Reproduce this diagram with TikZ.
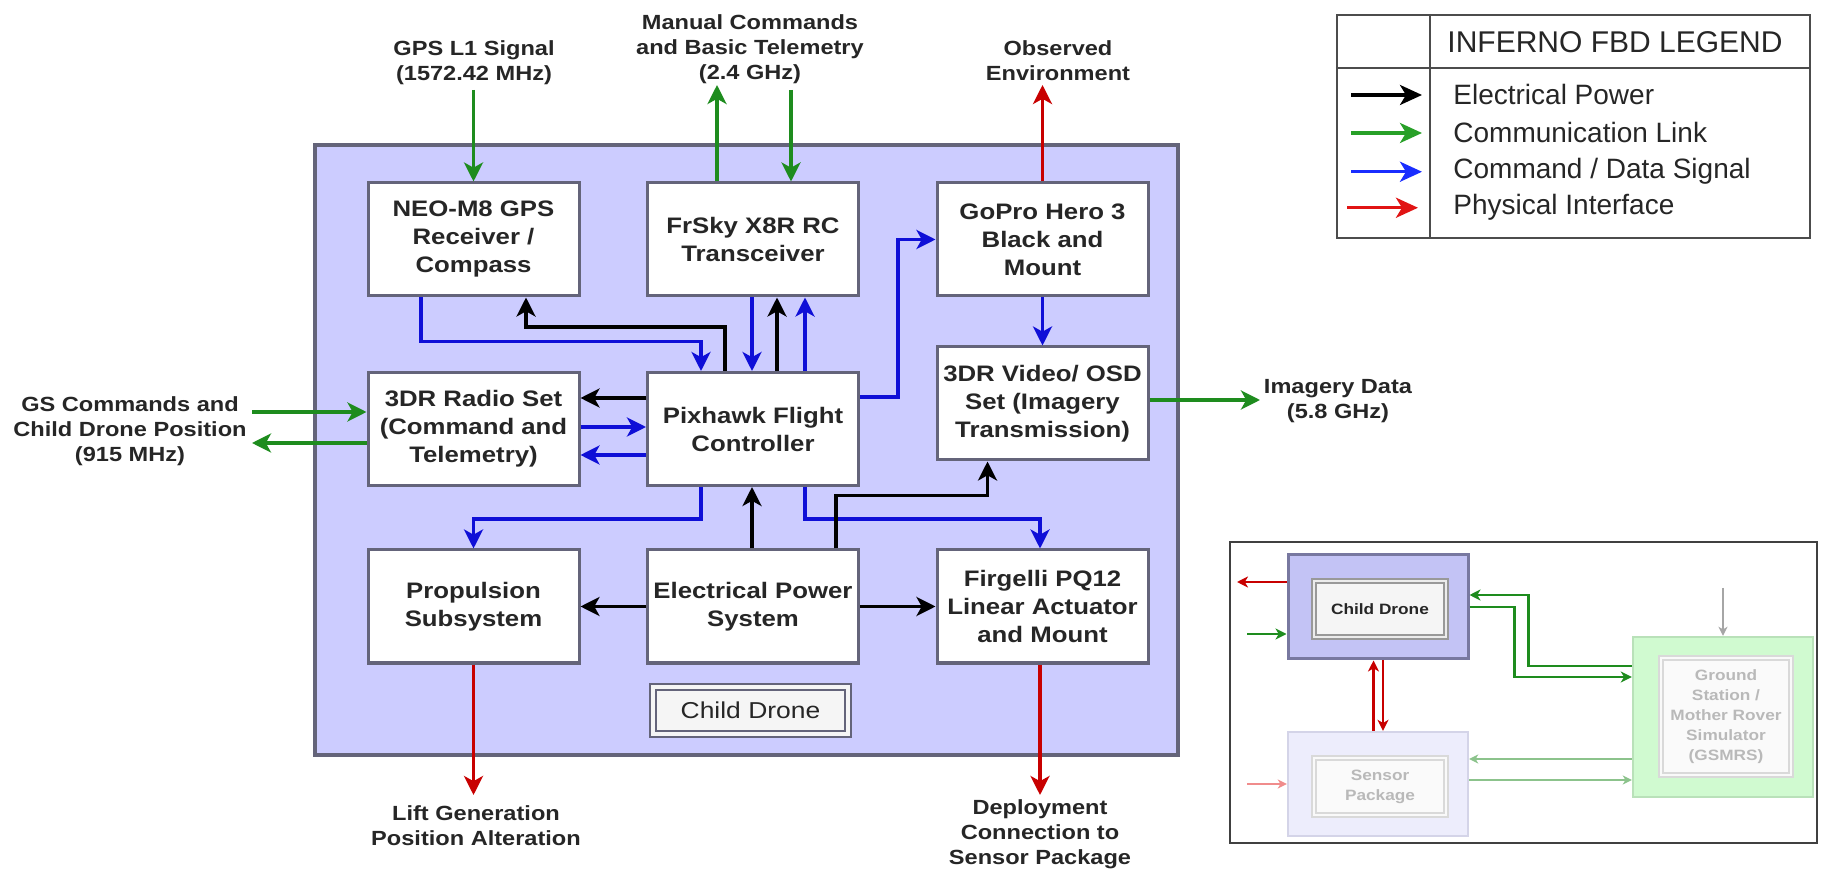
\documentclass[tikz,border=0pt]{standalone}
\usepackage{fontspec}
\setmainfont{Liberation Sans}
\newfontfamily\boxfont[FakeStretch=1.15]{Liberation Sans}
\usetikzlibrary{arrows.meta,calc}
\definecolor{lav}{RGB}{204,204,255}
\definecolor{bord}{RGB}{100,100,122}
\definecolor{cgreen}{RGB}{30,140,30}
\definecolor{cblue}{RGB}{15,15,215}
\definecolor{cred}{RGB}{200,0,0}
\definecolor{lgreen}{RGB}{40,160,40}
\definecolor{lblue}{RGB}{25,45,255}
\definecolor{lred}{RGB}{225,20,20}
\definecolor{icdfill}{RGB}{195,195,245}
\definecolor{icdbord}{RGB}{120,120,160}
\definecolor{ispfill}{RGB}{237,237,252}
\definecolor{ispbord}{RGB}{212,212,232}
\definecolor{igsfill}{RGB}{208,250,208}
\definecolor{igsbord}{RGB}{185,225,185}
\definecolor{fgreen}{RGB}{140,195,140}
\definecolor{fred}{RGB}{240,140,140}
\tikzset{
  arrhead/.style={-{Stealth[length=9.5pt,width=9.5pt,inset=2.6pt]}},
  conn/.style={line width=1.8pt, arrhead},
  blk/.style={conn, draw=black},
  blu/.style={conn, draw=cblue},
  grn/.style={conn, draw=cgreen},
  rd/.style={conn, draw=cred},
  fbox/.style={draw=bord, line width=1.5pt, fill=white, minimum width=105.5pt,
    minimum height=56.5pt, inner sep=0pt, align=center, text=black!85,
    font=\boxfont\bfseries\fontsize{11.2}{14}\selectfont},
  lbl/.style={align=center, inner sep=0pt, text=black!85,
    font=\boxfont\bfseries\fontsize{10.25}{12.5}\selectfont},
  legtxt/.style={anchor=base west, inner sep=0pt, text=black!85,
    font=\fontsize{14}{16}\selectfont},
  legarr/.style={line width=1.7pt, -{Stealth[length=11pt,width=10pt,inset=3pt]}},
  iarr/.style={line width=1.4pt, -{Stealth[length=5.5pt,width=5.5pt,inset=1.6pt]}},
  farr/.style={line width=0.9pt, -{Stealth[length=4.5pt,width=4.5pt,inset=1.3pt]}},
  ifont/.style={font=\boxfont\bfseries\fontsize{7.5}{10}\selectfont},
}
\begin{document}
\begin{tikzpicture}[x=0.5pt,y=-0.5pt]
\useasboundingbox (0,0) rectangle (1822,871);
\fill[white] (0,0) rectangle (1822,871);

% ---------- main child drone block ----------
\node[draw=bord, line width=2pt, fill=lav, minimum width=431.5pt, minimum height=305pt, inner sep=0pt] (drone) at (746.5,450) {};

\node[fbox] (neo)   at (473.5,239.5) {NEO-M8 GPS\\Receiver /\\Compass};
\node[fbox] (frsky) at (753,239.5)   {FrSky X8R RC\\Transceiver};
\node[fbox] (gopro) at (1042.5,239.5){GoPro Hero 3\\Black and\\Mount};
\node[fbox] (radio) at (473.5,429)   {3DR Radio Set\\(Command and\\Telemetry)};
\node[fbox] (pix)   at (753,429)     {Pixhawk Flight\\Controller};
\node[fbox] (video) at (1042.5,403.5){3DR Video/ OSD\\Set (Imagery\\Transmission)};
\node[fbox] (prop)  at (473.5,606.5) {Propulsion\\Subsystem};
\node[fbox] (eps)   at (753,606.5)   {Electrical Power\\System};
\node[fbox] (firg)  at (1042.5,606.5){Firgelli PQ12\\Linear Actuator\\and Mount};

\node[draw=bord, double=gray!8, double distance=1.6pt, line width=1pt, fill=gray!8,
  minimum width=97.5pt, minimum height=23.5pt, inner sep=0pt, text=black!85,
  font=\boxfont\fontsize{11.5}{14}\selectfont] (cdl) at (750.5,710.5) {Child Drone};

% ---------- external labels ----------
\node[lbl] (gpsl) at (474,63)   {GPS L1 Signal\\(1572.42 MHz)};
\node[lbl] (rcl)  at (750,49)   {Manual Commands\\and Basic Telemetry\\(2.4 GHz)};
\node[lbl] (obsl) at (1058,61){Observed\\Environment};
\node[lbl] (gsl)  at (130,431)  {GS Commands and\\Child Drone Position\\(915 MHz)};
\node[lbl] (imgl) at (1338,401){Imagery Data\\(5.8 GHz)};
\node[lbl] (liftl) at (476,825.5){Lift Generation\\Position Alteration};
\node[lbl] (depl) at (1040,834) {Deployment\\Connection to\\Sensor Package};

\coordinate (gpspt) at (473.5,90);
\coordinate (rcup)  at (717,85);
\coordinate (rcdn)  at (791,90);
\coordinate (obspt) at (1042.5,85);
\coordinate (gsin)  at (252,412);
\coordinate (gsout) at (252,443);
\coordinate (imgpt) at (1260,400);
\coordinate (liftpt) at (473.5,795);
\coordinate (deppt) at (1040,795);

% ---------- connectors ----------
\draw[grn] (gpspt) -- (neo.north);
\draw[grn] ($(frsky.north)+(-36,0)$) -- (rcup);
\draw[grn] (rcdn) -- ($(frsky.north)+(38,0)$);
\draw[rd] (gopro.north) -- (obspt);

\draw[blu] ($(neo.south)+(-52.5,0)$) -- ++(0,44) -| ($(pix.north)+(-52,0)$);
\draw[blk] ($(pix.north)+(-28,0)$) -- ++(0,-44) -| ($(neo.south)+(52.5,0)$);
\draw[blu] ($(frsky.south)+(-1,0)$) -- ($(pix.north)+(-1,0)$);
\draw[blk] ($(pix.north)+(24,0)$) -- ($(frsky.south)+(24,0)$);
\draw[blu] ($(pix.north)+(52,0)$) -- ($(frsky.south)+(52,0)$);

\draw[blk] ($(pix.west)+(0,-31)$) -- ($(radio.east)+(0,-31)$);
\draw[blu] ($(radio.east)+(0,-2)$) -- ($(pix.west)+(0,-2)$);
\draw[blu] ($(pix.west)+(0,26)$) -- ($(radio.east)+(0,26)$);

\draw[grn] (gsin) -- (gsin -| radio.west);
\draw[grn] (gsout -| radio.west) -- (gsout);

\draw[blu] ($(pix.east)+(0,-32)$) -- ++(38,0) |- (gopro.west);
\draw[blu] (gopro.south) -- (video.north);
\draw[grn] ($(video.east)+(0,-3.5)$) -- (imgpt);

\draw[blu] ($(pix.south)+(-52,0)$) -- ++(0,32) -| (prop.north);
\draw[blk] ($(eps.north)+(-1,0)$) -- ($(pix.south)+(-1,0)$);
\draw[blu] ($(pix.south)+(52,0)$) -- ++(0,32) -| ($(firg.north)+(-2.5,0)$);
\draw[blk] ($(eps.north)+(83,0)$) -- ++(0,-53) -| ($(video.south)+(-55,0)$);
\draw[blk] (eps.west) -- (prop.east);
\draw[blk] (eps.east) -- (firg.west);

\draw[rd] (prop.south) -- (liftpt);
\draw[rd] ($(firg.south)+(-2.5,0)$) -- (deppt);

% ---------- legend ----------
\node[draw=black!70, line width=1.2pt, minimum width=236.5pt, minimum height=111.5pt, inner sep=0pt] (leg) at (1573.5,126.5) {};
\draw[black!70, line width=1.2pt] ($(leg.north west)+(94,0)$) -- ($(leg.south west)+(94,0)$);
\draw[black!70, line width=1.2pt] ($(leg.north west)+(0,54)$) -- ($(leg.north east)+(0,54)$);
\node[inner sep=0pt, text=black!85, font=\fontsize{15}{18}\selectfont] (legh) at (1615,42) {INFERNO FBD LEGEND};
\node[legtxt] (lt1) at (1453,105) {Electrical Power};
\node[legtxt] (lt2) at (1453,143) {Communication Link};
\node[legtxt] (lt3) at (1453,179) {Command / Data Signal};
\node[legtxt] (lt4) at (1453,215) {Physical Interface};
\draw[legarr, black]  ($(lt1.west)+(-102,0)$) -- ($(lt1.west)+(-31,0)$);
\draw[legarr, lgreen] ($(lt2.west)+(-102,0)$) -- ($(lt2.west)+(-31,0)$);
\draw[legarr, lblue]  ($(lt3.west)+(-102,0)$) -- ($(lt3.west)+(-31,0)$);
\draw[legarr, lred]   ($(lt4.west)+(-106,0)$) -- ($(lt4.west)+(-35,0)$);

% ---------- inset ----------
\node[draw=black!75, line width=1.2pt, minimum width=293.5pt, minimum height=150.5pt, inner sep=0pt] (inset) at (1523.5,692.5) {};
\node[draw=icdbord, line width=1.5pt, fill=icdfill, minimum width=90pt, minimum height=52pt, inner sep=0pt] (icd) at (1378,607) {};
\node[draw=gray!80, double=gray!15, double distance=1.2pt, line width=0.8pt, fill=gray!8,
  minimum width=66pt, minimum height=28pt, inner sep=0pt, ifont, text=black!85] (icdin) at (1380,609) {Child Drone};
\node[draw=ispbord, line width=1.2pt, fill=ispfill, minimum width=90pt, minimum height=52pt, inner sep=0pt] (isp) at (1378,784) {};
\node[draw=gray!30, double=gray!5, double distance=1.2pt, line width=0.8pt, fill=gray!4,
  minimum width=66pt, minimum height=28.5pt, inner sep=0pt, ifont, text=gray!55, align=center] (ispin) at (1380,786.5) {Sensor\\Package};
\node[draw=igsbord, line width=1.2pt, fill=igsfill, minimum width=90pt, minimum height=80pt, inner sep=0pt] (igs) at (1723,717) {};
\node[draw=gray!30, double=gray!5, double distance=1.2pt, line width=0.8pt, fill=gray!4,
  minimum width=65pt, minimum height=58.5pt, inner sep=0pt, ifont, text=gray!55, align=center] (igsin) at (1726,716.5) {Ground\\Station /\\Mother Rover\\Simulator\\(GSMRS)};

\coordinate (iro) at (1237,582);
\coordinate (igi) at (1247,634);
\coordinate (iri) at (1247,784);
\coordinate (igr) at (1723,588);

\draw[iarr, cred] ($(icd.west)+(0,-25)$) -- (iro);
\draw[iarr, cgreen] (igi) -- ($(icd.west)+(0,27)$);
\draw[iarr, cred] ($(isp.north)+(-4.5,0)$) -- ($(icd.south)+(-4.5,0)$);
\draw[iarr, cred] ($(icd.south)+(5,0)$) -- ($(isp.north)+(5,0)$);
\draw[iarr, cgreen] ($(igs.west)+(0,-51)$) -| ($(icd.east)+(59,-12)$) -- ($(icd.east)+(0,-12)$);
\draw[iarr, cgreen] (icd.east) -| ($(igs.west)+(-117,-40)$) -- ($(igs.west)+(0,-40)$);
\draw[farr, gray!70] (igr) -- (igs.north);
\draw[farr, fgreen] ($(igs.west)+(0,42)$) -- ($(isp.east)+(0,-25)$);
\draw[farr, fgreen] ($(isp.east)+(0,-4)$) -- ($(igs.west)+(0,63)$);
\draw[farr, fred] (iri) -- (isp.west);
\end{tikzpicture}
\end{document}
